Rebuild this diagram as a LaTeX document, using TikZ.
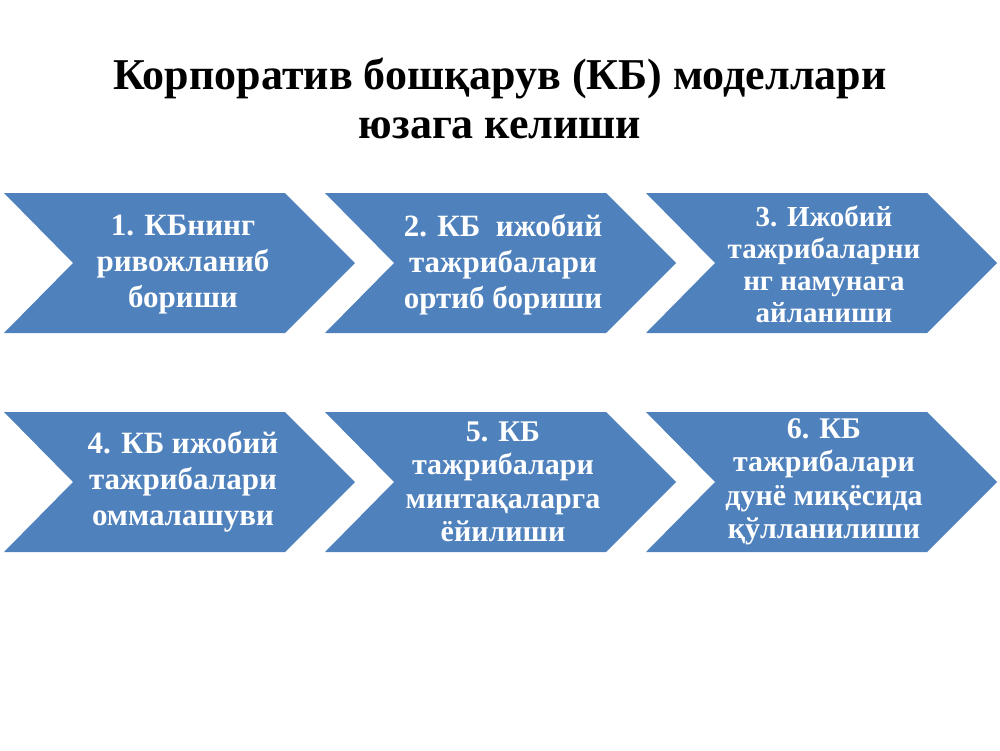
\documentclass[tikz,border=0pt]{standalone}
\usepackage{fontspec}
\setmainfont{Liberation Serif}
\definecolor{chevblue}{HTML}{4F81BD}
\begin{document}
\begin{tikzpicture}[x=1pt,y=-1pt,
  chev/.style={fill=chevblue},
  chevtext/.style={text=white,font=\bfseries\fontsize{31}{36}\selectfont,align=center,inner sep=0pt},
  chevtextsm/.style={text=white,font=\bfseries\fontsize{30}{33.5}\selectfont,align=center,inner sep=0pt},
  titletext/.style={font=\bfseries\fontsize{44}{49}\selectfont,align=center,inner sep=0pt}]
\useasboundingbox (0,0) rectangle (1000,750);
\node[titletext] (title) at (500,98) {Корпоратив бошқарув (КБ) моделлари\\юзага келиши};
\newcommand{\chevshape}[2]{%
  \fill[chev] (#1,#2) -- ++(281,0) -- ++(70,70) -- ++(-70,70) -- ++(-281,0) -- ++(69,-70) -- cycle;}
\chevshape{4}{193}
\chevshape{325}{193}
\chevshape{646}{193}
\chevshape{4}{412}
\chevshape{325}{412}
\chevshape{646}{412}
\node[chevtext] (c1) at (183,265) {1. КБнинг\\ривожланиб\\бориши};
\node[chevtext] (c2) at (503,265) {2. КБ~ ижобий\\тажрибалари\\ортиб бориши};
\node[chevtextsm,font=\bfseries\fontsize{29}{32}\selectfont] (c3) at (824,264) {3. Ижобий\\тажрибаларни\\нг намунага\\айланиши};
\node[chevtext] (c4) at (183,482) {4. КБ ижобий\\тажрибалари\\оммалашуви};
\node[chevtextsm] (c5) at (503,482) {5. КБ\\тажрибалари\\минтақаларга\\ёйилиши};
\node[chevtextsm] (c6) at (824,482) {6. КБ\\тажрибалари\\дунё миқёсида\\қўлланилиши};
\end{tikzpicture}
\end{document}
